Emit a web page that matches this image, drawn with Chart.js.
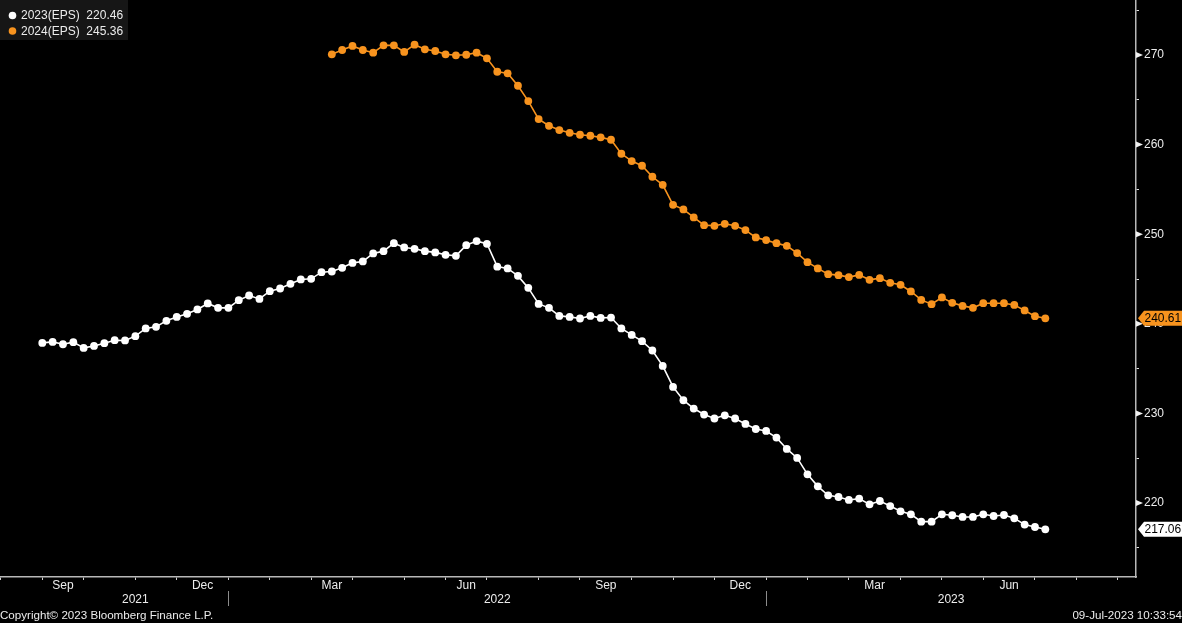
<!DOCTYPE html>
<html><head><meta charset="utf-8">
<script src="https://cdn.jsdelivr.net/npm/chart.js@4.4.0/dist/chart.umd.min.js"></script>
<style>html,body{margin:0;padding:0;background:#000;overflow:hidden}canvas{display:block}</style>
</head><body>
<canvas id="c" width="1182" height="623"></canvas>
<script>
// ---- data ----
const FIRST_WEEK_UTC = Date.UTC(2021, 7, 27);   // first weekly observation (Fri 27-Aug-2021)
const seriesNames = ['2023(EPS)', '2024(EPS)'];
const legendValues = ['220.46', '245.36'];
const seriesColors = ['#ffffff', '#f7931e'];

const eps2023 = [
  237.87, 237.98, 237.72, 237.95, 237.31, 237.53, 237.84, 238.17, 238.14, 238.62,
  239.48, 239.66, 240.33, 240.77, 241.11, 241.60, 242.27, 241.78, 241.78, 242.64,
  243.16, 242.78, 243.64, 243.94, 244.46, 244.95, 245.02, 245.76, 245.84, 246.25,
  246.80, 246.96, 247.85, 248.11, 249.00, 248.52, 248.37, 248.11, 247.97, 247.70,
  247.59, 248.78, 249.23, 248.93, 246.38, 246.18, 245.35, 244.01, 242.22, 241.78,
  240.88, 240.77, 240.59, 240.88, 240.66, 240.70, 239.48, 238.76, 238.06, 237.02,
  235.30, 232.96, 231.47, 230.54, 229.87, 229.43, 229.79, 229.43, 228.82, 228.26,
  228.04, 227.30, 226.03, 225.03, 223.20, 221.86, 220.86, 220.67, 220.34, 220.49,
  219.85, 220.22, 219.66, 219.07, 218.74, 217.92, 217.92, 218.74, 218.63, 218.44,
  218.44, 218.74, 218.55, 218.66, 218.29, 217.59, 217.32, 217.06
];
const eps2024StartWeek = 28;
const eps2024 = [
  270.08, 270.56, 271.01, 270.56, 270.26, 271.08, 271.08, 270.34, 271.15, 270.64,
  270.45, 270.08, 269.97, 270.03, 270.26, 269.63, 268.13, 267.96, 266.57, 264.86,
  262.85, 262.10, 261.62, 261.32, 261.10, 260.99, 260.81, 260.54, 258.98, 258.16,
  257.64, 256.41, 255.51, 253.28, 252.77, 251.87, 251.01, 250.94, 251.16, 250.94,
  250.46, 249.64, 249.34, 249.00, 248.70, 247.89, 246.88, 246.18, 245.54, 245.43,
  245.21, 245.46, 244.91, 245.09, 244.57, 244.35, 243.61, 242.67, 242.19, 242.94,
  242.34, 242.00, 241.78, 242.30, 242.30, 242.30, 242.11, 241.49, 240.85, 240.61
];
const monthNames = ['Jan','Feb','Mar','Apr','May','Jun','Jul','Aug','Sep','Oct','Nov','Dec'];
const labelledMonths = ['Sep','Dec','Mar','Jun'];
const yTickValues = [215, 220, 225, 230, 235, 240, 245, 250, 255, 260, 265, 270, 275];
const yLabelValues = [220, 230, 240, 250, 260, 270];
const footerLeft = 'Copyright\u00A9 2023 Bloomberg Finance L.P.';
const footerRight = '09-Jul-2023 10:33:54';

// ---- helpers ----
const FONT = '"Liberation Sans", Arial, sans-serif';
const X_MIN = -4.09, X_MAX = 105.77, Y_MIN = 211.74, Y_MAX = 276.14;
const weekDate = i => new Date(FIRST_WEEK_UTC + i * 7 * 86400000);
const weekDates = eps2023.map((_, i) => weekDate(i));

// last weekly observation of each month (month boundary ticks)
const monthEnds = [];
for (let i = Math.floor(X_MIN); i <= Math.ceil(X_MAX); i++) {
  if (weekDate(i).getUTCMonth() !== weekDate(i + 1).getUTCMonth()) monthEnds.push(i);
}
const yearEnds = monthEnds.filter(i => weekDate(i).getUTCMonth() === 11);

const white = eps2023.map((v, i) => ({x: i, y: v}));
const orange = eps2024.map((v, i) => ({x: i + eps2024StartWeek, y: v}));

const noPad = a => { a.paddingTop = 0; a.paddingBottom = 0; a.paddingLeft = 0; a.paddingRight = 0; };

const axisPlugin = {
  id: 'bbgDecor',
  beforeDraw(chart) {
    const c = chart.ctx;
    c.save(); c.fillStyle = '#000'; c.fillRect(0, 0, chart.width, chart.height); c.restore();
  },
  afterDraw(chart) {
    const c = chart.ctx, xs = chart.scales.x, ys = chart.scales.y, ca = chart.chartArea;
    c.save();
    c.font = '12px ' + FONT;
    c.textBaseline = 'middle';
    c.fillStyle = '#ececec';
    c.textAlign = 'center';
    // month labels, centred between month-boundary ticks
    for (let k = 1; k < monthEnds.length; k++) {
      const m = monthNames[weekDate(monthEnds[k]).getUTCMonth()];
      if (!labelledMonths.includes(m)) continue;
      const xp = xs.getPixelForValue((monthEnds[k - 1] + monthEnds[k]) / 2);
      c.fillText(m, xp, 586);
    }
    // year labels and dividers
    const bounds = [0, ...yearEnds, X_MAX];
    for (let k = 0; k < bounds.length - 1; k++) {
      const label = weekDate(k === 0 ? 0 : bounds[k] + 1).getUTCFullYear();
      const xp = xs.getPixelForValue((bounds[k] + bounds[k + 1]) / 2);
      c.fillText(String(label), xp, 599.5);
    }
    c.strokeStyle = '#8c8c8c'; c.lineWidth = 1;
    yearEnds.forEach(i => {
      const xp = Math.round(xs.getPixelForValue(i)) + 0.5;
      c.beginPath(); c.moveTo(xp, 591); c.lineTo(xp, 606); c.stroke();
    });
    // footer
    c.font = '11.6px ' + FONT;
    c.textAlign = 'left'; c.fillText(footerLeft, 0, 615.5);
    c.textAlign = 'right'; c.fillText(footerRight, chart.width, 615.5);
    // major y tick markers
    c.fillStyle = '#f0f0f0';
    yLabelValues.forEach(v => {
      const yp = ys.getPixelForValue(v);
      c.beginPath(); c.moveTo(ca.right, yp - 3); c.lineTo(ca.right + 7, yp); c.lineTo(ca.right, yp + 3); c.closePath(); c.fill();
    });
    // last-value tags
    const tags = [
      {v: eps2024[eps2024.length - 1], col: seriesColors[1]},
      {v: eps2023[eps2023.length - 1], col: seriesColors[0]}
    ];
    c.font = '12px ' + FONT;
    tags.forEach(t => {
      const yp = ys.getPixelForValue(t.v);
      c.fillStyle = t.col;
      c.beginPath();
      c.moveTo(ca.right + 2, yp); c.lineTo(ca.right + 8, yp - 7.5); c.lineTo(chart.width, yp - 7.5);
      c.lineTo(chart.width, yp + 7.5); c.lineTo(ca.right + 8, yp + 7.5); c.closePath(); c.fill();
      c.fillStyle = '#000'; c.textAlign = 'left';
      c.fillText(t.v.toFixed(2), ca.right + 8.5, yp + 0.5);
    });
    // legend box
    c.fillStyle = '#161616';
    c.fillRect(0, 0, 128, 40);
    c.font = '12px ' + FONT;
    seriesNames.forEach((n, k) => {
      const yp = 15.5 + k * 15.5;
      c.fillStyle = seriesColors[k];
      c.beginPath(); c.arc(12.5, yp, 3.8, 0, Math.PI * 2); c.fill();
      c.fillStyle = '#ececec'; c.textAlign = 'left';
      c.fillText(n + '  ' + legendValues[k], 21, yp + 0.5);
    });
    c.restore();
  }
};

new Chart(document.getElementById('c'), {
  type: 'line',
  data: {
    datasets: [
      {label: seriesNames[0], data: white, borderColor: seriesColors[0], backgroundColor: seriesColors[0],
       borderWidth: 1.6, pointRadius: 3.9, pointBorderWidth: 0, pointHoverRadius: 3.9, tension: 0},
      {label: seriesNames[1], data: orange, borderColor: seriesColors[1], backgroundColor: seriesColors[1],
       borderWidth: 1.6, pointRadius: 3.9, pointBorderWidth: 0, pointHoverRadius: 3.9, tension: 0}
    ]
  },
  options: {
    responsive: false, animation: false, devicePixelRatio: 1,
    layout: {padding: 0, autoPadding: false},
    plugins: {legend: {display: false}, tooltip: {enabled: false}},
    scales: {
      x: {
        type: 'linear', position: 'bottom', min: X_MIN, max: X_MAX,
        afterBuildTicks: a => { a.ticks = monthEnds.filter(v => v >= X_MIN && v <= X_MAX).map(v => ({value: v})); },
        afterFit: a => { a.height = 46; noPad(a); },
        ticks: {display: false},
        grid: {drawOnChartArea: false, drawTicks: true, tickLength: 3, color: '#cfcfcf', lineWidth: 1},
        border: {display: true, color: '#b8b8b8', width: 1.5}
      },
      y: {
        type: 'linear', position: 'right', min: Y_MIN, max: Y_MAX,
        afterBuildTicks: a => { a.ticks = yTickValues.map(v => ({value: v})); },
        afterFit: a => { a.width = 46; noPad(a); },
        ticks: {color: '#ececec', font: {size: 12, family: FONT}, padding: 5,
                callback: v => yLabelValues.includes(v) ? String(v) : ''},
        grid: {drawOnChartArea: false, drawTicks: true, tickLength: 3, color: '#e0e0e0', lineWidth: 1},
        border: {display: true, color: '#b8b8b8', width: 1.5}
      }
    }
  },
  plugins: [axisPlugin]
});
</script>
</body></html>
